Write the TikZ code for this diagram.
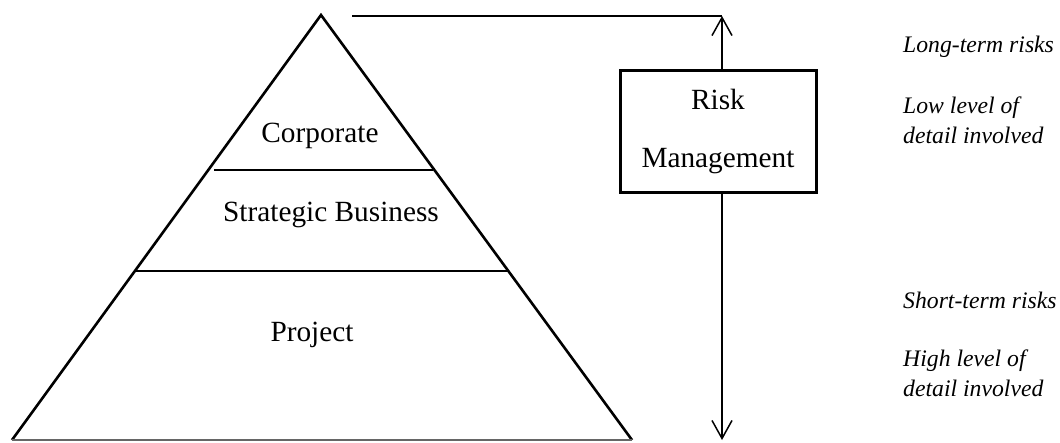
\documentclass[tikz,border=0pt]{standalone}
\usepackage{fontspec}
\setmainfont{Liberation Serif}
\usetikzlibrary{arrows.meta}
\begin{document}
\begin{tikzpicture}[x=1pt,y=-1pt,
  edge/.style={line width=2.6pt,line join=miter},
  level/.style={line width=2pt},
  big/.style={font=\fontsize{29.3}{35}\selectfont,inner sep=0pt},
  note/.style={font=\fontsize{23.7}{30}\selectfont\itshape,inner sep=0pt,anchor=west,align=left},
  rmbox/.style={draw,line width=3pt,minimum width=196pt,minimum height=122pt,inner sep=0pt,
    align=center,font=\fontsize{29.3}{58}\selectfont},
  rangearrow/.style={line width=1.5pt,-{Straight Barb[length=18pt,width=20pt,line width=1.5pt]}}]
\useasboundingbox (0,0) rectangle (1060,442);

% pyramid outline
\coordinate (apex) at (321,15);
\coordinate (bl) at (12,440);
\coordinate (br) at (632,440);
\draw[edge] (bl) -- (apex) -- (br);
\draw[line width=1.6pt,black!60] (bl) -- (br);

% level dividers
\coordinate (d1l) at (214,170);
\coordinate (d1r) at (433,170);
\coordinate (d2l) at (135,271);
\coordinate (d2r) at (509,271);
\draw[level] (d1l) -- (d1r);
\draw[level] (d2l) -- (d2r);

% level names
\node[big] (corp) at (320,136) {Corporate};
\node[big] (sbu) at (331,215) {Strategic Business};
\node[big] (proj) at (312,335) {Project};

% risk management scale
\node[rmbox] (rm) at (718,131) {Risk\\Management};
\coordinate (lead) at (352,16);
\coordinate (top) at (722,16);
\coordinate (bot) at (722,440);
\draw[line width=1.6pt] (lead) -- (top);
\draw[rangearrow] (rm.north -| top) -- (top);
\draw[rangearrow] (rm.south -| bot) -- (bot);

% annotations
\node[note] (lt) at (903,47) {Long-term risks};
\node[note] (ll) at (903,120) {Low level of\\detail involved};
\node[note] (st) at (903,300) {Short-term risks};
\node[note] (hl) at (903,373) {High level of\\detail involved};
\end{tikzpicture}
\end{document}
